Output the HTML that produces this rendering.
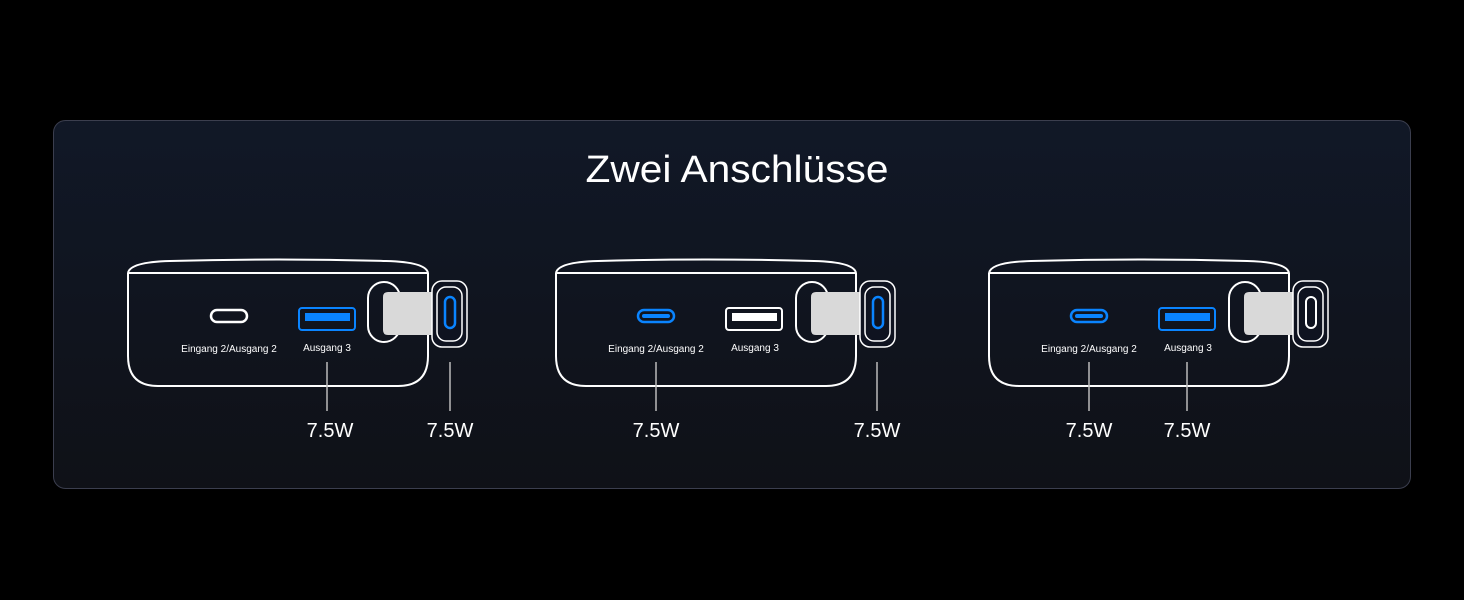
<!DOCTYPE html>
<html><head><meta charset="utf-8"><style>
html,body{margin:0;padding:0;background:#000;}
svg{display:block;}
text{font-family:"Liberation Sans",sans-serif;fill:#fff;}
</style></head><body>
<svg width="1464" height="600" viewBox="0 0 1464 600" xmlns="http://www.w3.org/2000/svg">
<defs>
<linearGradient id="bg" x1="0" y1="0" x2="0" y2="1">
<stop offset="0" stop-color="#111827"/><stop offset="1" stop-color="#0f1117"/>
</linearGradient>
<g id="body" fill="none" stroke="#fff" stroke-width="2">
<path d="M128 273 Q130 262 170 261 Q278 258 386 261 Q426 262 428 273"/>
<line x1="128" y1="273" x2="428" y2="273"/>
<path d="M128 273 L128 356 Q128 386 158 386 L398 386 Q428 386 428 356 L428 273"/>
<rect x="368" y="282" width="32" height="60" rx="16"/>
</g>
<g id="plug">
<path d="M388 292 L437 292 L437 335 L388 335 Q383 335 383 330 L383 297 Q383 292 388 292Z" fill="#d9d9d9"/>
<rect x="432" y="281" width="35" height="66" rx="10" fill="#0f1320" stroke="#fff" stroke-width="1.5"/>
<rect x="437" y="287" width="25" height="54" rx="9" fill="none" stroke="#fff" stroke-width="1.5"/>
</g>
</defs>
<rect x="53.5" y="120.5" width="1357" height="368" rx="12" fill="url(#bg)" stroke="#3b3e4e" stroke-width="1"/>
<text x="737" y="182" font-size="38" text-anchor="middle" textLength="303" lengthAdjust="spacingAndGlyphs">Zwei Anschlüsse</text>

<!-- device 1 -->
<use href="#body"/><use href="#plug"/>
<rect x="445" y="297" width="10" height="31" rx="5" fill="none" stroke="#0a84ff" stroke-width="2.5"/>
<rect x="211" y="310" width="36" height="12" rx="6" fill="none" stroke="#fff" stroke-width="2.5"/>
<rect x="299" y="308" width="56" height="22" rx="3" fill="none" stroke="#0a84ff" stroke-width="2"/>
<rect x="305" y="313" width="45" height="8" fill="#0a84ff"/>
<text x="229" y="352" font-size="10" text-anchor="middle" fill="#e6e6e6">Eingang 2/Ausgang 2</text>
<text x="327" y="351" font-size="10" text-anchor="middle">Ausgang 3</text>
<line x1="327" y1="362" x2="327" y2="411" stroke="#bbb" stroke-width="1.5"/>
<line x1="450" y1="362" x2="450" y2="411" stroke="#bbb" stroke-width="1.5"/>
<text x="330" y="437" font-size="20" text-anchor="middle">7.5W</text>
<text x="450" y="437" font-size="20" text-anchor="middle">7.5W</text>

<!-- device 2 -->
<g transform="translate(428,0)"><use href="#body"/><use href="#plug"/>
<rect x="445" y="297" width="10" height="31" rx="5" fill="none" stroke="#0a84ff" stroke-width="2.5"/></g>
<rect x="638" y="310" width="36" height="12" rx="6" fill="none" stroke="#0a84ff" stroke-width="2.5"/>
<rect x="642" y="314" width="28" height="4" rx="2" fill="#0a84ff"/>
<rect x="726" y="308" width="56" height="22" rx="3" fill="none" stroke="#fff" stroke-width="2"/>
<rect x="732" y="313" width="45" height="8" fill="#fff"/>
<text x="656" y="352" font-size="10" text-anchor="middle" fill="#e6e6e6">Eingang 2/Ausgang 2</text>
<text x="755" y="351" font-size="10" text-anchor="middle">Ausgang 3</text>
<line x1="656" y1="362" x2="656" y2="411" stroke="#bbb" stroke-width="1.5"/>
<line x1="877" y1="362" x2="877" y2="411" stroke="#bbb" stroke-width="1.5"/>
<text x="656" y="437" font-size="20" text-anchor="middle">7.5W</text>
<text x="877" y="437" font-size="20" text-anchor="middle">7.5W</text>

<!-- device 3 -->
<g transform="translate(861,0)"><use href="#body"/><use href="#plug"/>
<rect x="445" y="297" width="10" height="31" rx="5" fill="none" stroke="#fff" stroke-width="2"/></g>
<rect x="1071" y="310" width="36" height="12" rx="6" fill="none" stroke="#0a84ff" stroke-width="2.5"/>
<rect x="1075" y="314" width="28" height="4" rx="2" fill="#0a84ff"/>
<rect x="1159" y="308" width="56" height="22" rx="3" fill="none" stroke="#0a84ff" stroke-width="2"/>
<rect x="1165" y="313" width="45" height="8" fill="#0a84ff"/>
<text x="1089" y="352" font-size="10" text-anchor="middle" fill="#e6e6e6">Eingang 2/Ausgang 2</text>
<text x="1188" y="351" font-size="10" text-anchor="middle">Ausgang 3</text>
<line x1="1089" y1="362" x2="1089" y2="411" stroke="#bbb" stroke-width="1.5"/>
<line x1="1187" y1="362" x2="1187" y2="411" stroke="#bbb" stroke-width="1.5"/>
<text x="1089" y="437" font-size="20" text-anchor="middle">7.5W</text>
<text x="1187" y="437" font-size="20" text-anchor="middle">7.5W</text>
</svg>
</body></html>
